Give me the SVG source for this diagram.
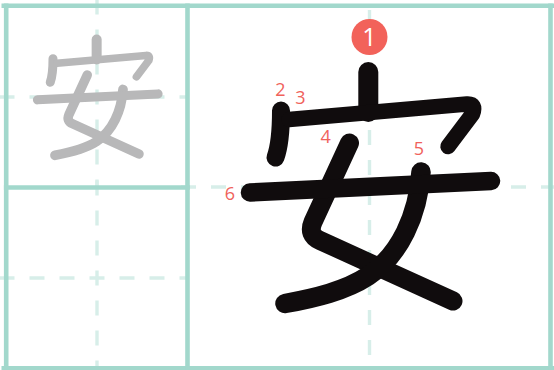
<svg xmlns="http://www.w3.org/2000/svg" width="554" height="370" viewBox="0 0 554 370">
<style>
.frame{stroke:#a2d8cc;stroke-width:4.6;fill:none}
.dash{stroke:#d7eee9;stroke-width:3.4;stroke-dasharray:15 15;fill:none}
.st{fill:none;stroke:currentColor;stroke-linecap:round;stroke-linejoin:round}
.num{font-family:"Open Sans","Liberation Sans",sans-serif;font-size:18px;fill:#f0625b;text-anchor:middle}
</style>
<defs>
<g id="strokes">
<path id="stroke-1" class="st" stroke-width="20" d="M368.3,72 L368.3,112"/>
<path id="stroke-2" class="st" stroke-width="18" d="M281,110.5 C281,128 280,145 275.5,157.5"/>
<path id="stroke-3" class="st" stroke-width="15.5" d="M289,119.5 L467,104 Q476.5,103.5 472.5,114 L448,146.5"/>
<path id="stroke-4" class="st" stroke-width="19" d="M349.5,143 L313,222 Q307.5,235 320,240.5 L453,301"/>
<path id="stroke-5" class="st" stroke-width="19.5" d="M421,172 C418,215 400,255 368,276 C345,291 315,298 285,303.5"/>
<path id="stroke-6" class="st" stroke-width="18.5" d="M250,192.5 L491,181"/>
</g>
</defs>
<rect width="554" height="370" fill="#ffffff"/>
<g id="grid">
<line class="dash" x1="-0.5" y1="97" x2="187.5" y2="97"/>
<line class="dash" x1="97" y1="-0.5" x2="97" y2="187.5"/>
<line class="dash" x1="-0.5" y1="278" x2="187.5" y2="278"/>
<line class="dash" x1="97" y1="180.5" x2="97" y2="370"/>
<line class="dash" x1="369.5" y1="-20" x2="369.5" y2="370"/>
<line class="dash" x1="181" y1="187" x2="554" y2="187"/>
<line class="frame" x1="1.5" y1="5.7" x2="554" y2="5.7"/>
<line class="frame" x1="1.5" y1="368.2" x2="554" y2="368.2"/>
<line class="frame" x1="6.2" y1="3.4" x2="6.2" y2="370"/>
<line class="frame" x1="187.5" y1="3.4" x2="187.5" y2="370"/>
<line class="frame" x1="550.5" y1="3.4" x2="550.5" y2="370"/>
<line class="frame" x1="3.9" y1="187.5" x2="189.8" y2="187.5"/>
</g>
<g id="preview">
<use href="#strokes" color="#b8b8b9" transform="translate(-87.5,3.5) scale(0.5)"/>
</g>
<g id="character" color="#100c0d">
<use href="#strokes"/>
</g>
<g id="stroke-marker-1">
<circle cx="369.5" cy="37" r="18" fill="#f2625a"/>
<text x="369.5" y="46" font-family="'Open Sans','Liberation Sans',sans-serif" font-size="25" fill="#ffffff" text-anchor="middle">1</text>
</g>
<g id="labels">
<text class="num" x="280.3" y="96">2</text>
<text class="num" x="300.5" y="104">3</text>
<text class="num" x="325.7" y="143.3">4</text>
<text class="num" x="419" y="155">5</text>
<text class="num" x="230" y="200">6</text>
</g>
</svg>
